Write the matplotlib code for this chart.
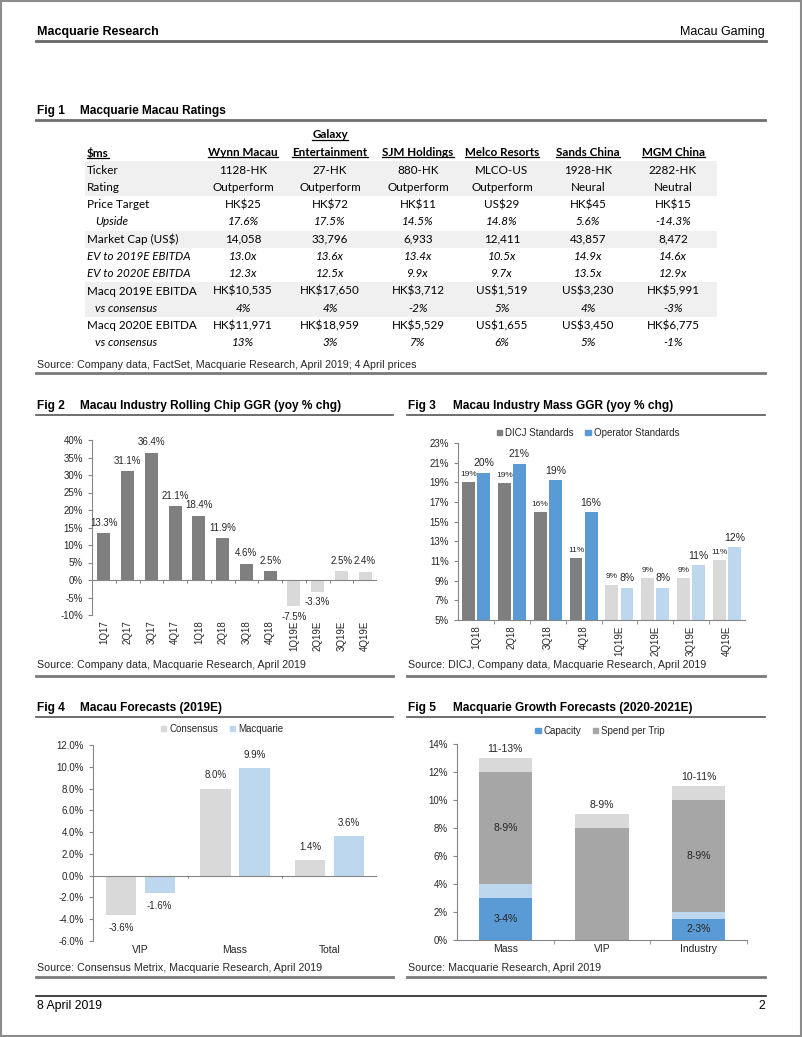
import numpy as np
import matplotlib
matplotlib.use('Agg')
import matplotlib.pyplot as plt
from matplotlib.lines import Line2D
from matplotlib.patches import Rectangle, Patch

plt.rcParams['font.family'] = ['Liberation Sans', 'DejaVu Sans']
NARROW = ['Liberation Sans Narrow', 'Liberation Sans', 'DejaVu Sans']
TABLE_FONT = ['Lato', 'DejaVu Sans']
TABLE_SIZE = 8.4

W, H = 802, 1037

# ---- data ----
companies = ['Wynn Macau', 'Galaxy\nEntertainment', 'SJM Holdings',
             'Melco Resorts', 'Sands China', 'MGM China']
row_labels = ['Ticker', 'Rating', 'Price Target', 'Upside', 'Market Cap (US$)',
              'EV to 2019E EBITDA', 'EV to 2020E EBITDA', 'Macq 2019E EBITDA',
              'vs consensus', 'Macq 2020E EBITDA', 'vs consensus']
tickers = ['1128-HK', '27-HK', '880-HK', 'MLCO-US', '1928-HK', '2282-HK']
ratings = ['Outperform', 'Outperform', 'Outperform', 'Outperform', 'Neural', 'Neutral']
price_targets = ['HK$25', 'HK$72', 'HK$11', 'US$29', 'HK$45', 'HK$15']
upside = ['17.6%', '17.5%', '14.5%', '14.8%', '5.6%', '-14.3%']
market_cap = ['14,058', '33,796', '6,933', '12,411', '43,857', '8,472']
ev_2019 = ['13.0x', '13.6x', '13.4x', '10.5x', '14.9x', '14.6x']
ev_2020 = ['12.3x', '12.5x', '9.9x', '9.7x', '13.5x', '12.9x']
ebitda_2019 = ['HK$10,535', 'HK$17,650', 'HK$3,712', 'US$1,519', 'US$3,230', 'HK$5,991']
cons_2019 = ['4%', '4%', '-2%', '5%', '4%', '-3%']
ebitda_2020 = ['HK$11,971', 'HK$18,959', 'HK$5,529', 'US$1,655', 'US$3,450', 'HK$6,775']
cons_2020 = ['13%', '3%', '7%', '6%', '5%', '-1%']
table_rows = [tickers, ratings, price_targets, upside, market_cap, ev_2019, ev_2020,
              ebitda_2019, cons_2019, ebitda_2020, cons_2020]
italic_rows = {3, 5, 6, 8, 10}
indent_rows = {3, 8, 10}
shaded_rows = {0, 1, 4, 7, 8}

chip_quarters = ['1Q17', '2Q17', '3Q17', '4Q17', '1Q18', '2Q18', '3Q18', '4Q18',
                 '1Q19E', '2Q19E', '3Q19E', '4Q19E']
chip_growth = [13.3, 31.1, 36.4, 21.1, 18.4, 11.9, 4.6, 2.5, -7.5, -3.3, 2.5, 2.4]

mass_quarters = ['1Q18', '2Q18', '3Q18', '4Q18', '1Q19E', '2Q19E', '3Q19E', '4Q19E']
mass_dicj = [19.0, 18.9, 16.0, 11.3, 8.6, 9.3, 9.3, 11.1]
mass_operator = [20.0, 20.9, 19.2, 16.0, 8.3, 8.3, 10.6, 12.4]

fc_segments = ['VIP', 'Mass', 'Total']
fc_consensus = [-3.6, 8.0, 1.4]
fc_macquarie = [-1.6, 9.9, 3.6]

gr_segments = ['Mass', 'VIP', 'Industry']
cap_low = [3.0, 0.0, 1.5]
cap_high = [4.0, 0.0, 2.0]
spend_low = [8.0, 8.0, 8.0]
spend_high = [9.0, 9.0, 9.0]
cap_labels = ['3-4%', '', '2-3%']
spend_labels = ['8-9%', '', '8-9%']
total_labels = ['11-13%', '8-9%', '10-11%']

DARK = '#7f7f7f'
LIGHT = '#d9d9d9'
BLUE = '#5b9bd5'
LBLUE = '#bdd7ee'
MID = '#a6a6a6'
AX = '#868686'
TXT = '#262626'

fig = plt.figure(figsize=(W / 100, H / 100), dpi=100)


def fx(x):
    return x / W


def fy(y):
    return 1 - y / H


def ax_at(l, t, r, b):
    return fig.add_axes([fx(l), fy(b), (r - l) / W, (b - t) / H])


def hline(x0, x1, y, color='#6e6e6e', lw=1.5):
    fig.add_artist(Line2D([fx(x0), fx(x1)], [fy(y), fy(y)], color=color, lw=lw))


def text(x, y, s, **kw):
    kw.setdefault('va', 'center')
    return fig.text(fx(x), fy(y), s, parse_math=False, **kw)


# page border
fig.add_artist(Rectangle((0.001, 0.001), 0.998, 0.998, fill=False,
                         ec='#8c8c8c', lw=1.5, transform=fig.transFigure))

# header / footer
text(37, 32, 'Macquarie Research', family=NARROW, weight='bold', fontsize=9)
text(765, 32, 'Macau Gaming', family=NARROW, fontsize=9, ha='right')
hline(36, 766, 41, color='#666666', lw=2)
hline(36, 766, 996, color='#222222', lw=1.2)
text(37, 1006, '8 April 2019', family=NARROW, fontsize=8.8)
text(765, 1006, '2', family=NARROW, fontsize=8.8, ha='right')


def fig_title(x, y, num, title, x2):
    text(x, y, 'Fig %d' % num, family=NARROW, weight='bold', fontsize=8.6)
    text(x2, y, title, family=NARROW, weight='bold', fontsize=8.6)


def source(x, y, s):
    text(x, y, s, fontsize=7.7, color=TXT)


# ---- Fig 1 table ----
fig_title(37, 111, 1, 'Macquarie Macau Ratings', 80)
hline(36, 765, 120, color='#6e6e6e', lw=2)

col_x = [243, 330, 418, 502, 588, 673]
row_y = [170 + 17.3 * i for i in range(len(row_labels))]
for i in shaded_rows:
    fig.add_artist(Rectangle((fx(85), fy(row_y[i] + 8.65)), (717 - 85) / W, 17.3 / H,
                             color='#f0f0f0', lw=0, transform=fig.transFigure, zorder=0))

headers = [text(87, 153, '$ms', family=TABLE_FONT, fontsize=TABLE_SIZE, weight='bold')]
for cx, name in zip(col_x, companies):
    lines = name.split('\n')
    for k, ln in enumerate(reversed(lines)):
        headers.append(text(cx, 153 - 18 * k, ln, family=TABLE_FONT, fontsize=TABLE_SIZE,
                            weight='bold', ha='center'))

for i, (lab, vals) in enumerate(zip(row_labels, table_rows)):
    style = 'italic' if i in italic_rows else 'normal'
    lx = 95 if i in indent_rows else 87
    text(lx, row_y[i], lab, family=TABLE_FONT, fontsize=TABLE_SIZE, style=style)
    for cx, v in zip(col_x, vals):
        text(cx, row_y[i], v, family=TABLE_FONT, fontsize=TABLE_SIZE, style=style, ha='center')

source(37, 365, 'Source: Company data, FactSet, Macquarie Research, April 2019; 4 April prices')
hline(36, 765, 373, color='#7a7a7a', lw=2)

fig.canvas.draw()
renderer = fig.canvas.get_renderer()
for t in headers:
    bb = t.get_window_extent(renderer).transformed(fig.transFigure.inverted())
    fig.add_artist(Line2D([bb.x0, bb.x1], [bb.y0 + 1.0 / H, bb.y0 + 1.0 / H],
                          color='black', lw=0.9))


def style_axes(ax):
    for s in ['top', 'right']:
        ax.spines[s].set_visible(False)
    ax.spines['left'].set_color(AX)
    ax.spines['bottom'].set_color(AX)
    ax.tick_params(axis='y', colors=AX, labelcolor=TXT, labelsize=7, length=3, width=0.8)
    ax.tick_params(axis='x', colors=AX, labelcolor=TXT, labelsize=7, width=0.8)


def legend(ax, handles, labels, cx, cy):
    ax.legend(handles, labels, loc='center', bbox_to_anchor=(fx(cx), fy(cy)),
              bbox_transform=fig.transFigure, ncol=len(labels), frameon=False,
              fontsize=7, handlelength=0.55, handleheight=0.55, handletextpad=0.3,
              columnspacing=1.2, labelcolor=TXT)


# ---- Fig 2 ----
fig_title(37, 406, 2, 'Macau Industry Rolling Chip GGR (yoy % chg)', 80)
hline(36, 393, 415, color='#555555', lw=1.2)
ax2 = ax_at(92, 440, 377, 615)
x2 = np.arange(len(chip_quarters))
c2 = [LIGHT if q.endswith('E') else DARK for q in chip_quarters]
ax2.bar(x2, chip_growth, width=0.55, color=c2)
ax2.set_xlim(-0.5, len(x2) - 0.5)
ax2.set_ylim(-10, 40)
ax2.set_yticks(range(-10, 41, 5))
ax2.yaxis.set_major_formatter(lambda v, p: '%d%%' % v)
style_axes(ax2)
ax2.spines['bottom'].set_visible(False)
ax2.axhline(0, color=AX, lw=0.8)
ax2.vlines(np.arange(len(x2)) + 0.5, -0.8, 0, color=AX, lw=0.8)
ax2.set_xticks(x2, chip_quarters, rotation=90)
ax2.tick_params(axis='x', length=0, pad=4)
for xi, v in zip(x2, chip_growth):
    off = 4 if v >= 0 else -4
    ax2.annotate('%.1f%%' % v, (xi, v), xytext=(0, off), textcoords='offset points',
                 ha='center', va='bottom' if v >= 0 else 'top', fontsize=7, color=TXT)
source(37, 665, 'Source: Company data, Macquarie Research, April 2019')
hline(36, 393, 676, color='#7a7a7a', lw=2)

# ---- Fig 3 ----
fig_title(408, 406, 3, 'Macau Industry Mass GGR (yoy % chg)', 453)
hline(407, 765, 415, color='#555555', lw=1.2)
ax3 = ax_at(458, 443, 745, 620)
x3 = np.arange(len(mass_quarters))
est = [q.endswith('E') for q in mass_quarters]
ax3.bar(x3 - 0.21, mass_dicj, width=0.36, color=[LIGHT if e else DARK for e in est])
ax3.bar(x3 + 0.21, mass_operator, width=0.36, color=[LBLUE if e else BLUE for e in est])
ax3.set_xlim(-0.5, len(x3) - 0.5)
ax3.set_ylim(5, 23)
ax3.set_yticks(range(5, 24, 2))
ax3.yaxis.set_major_formatter(lambda v, p: '%d%%' % v)
style_axes(ax3)
ax3.set_xticks(x3, mass_quarters, rotation=90)
ax3.set_xticks(np.arange(len(x3) - 1) + 0.5, minor=True)
ax3.tick_params(axis='x', which='major', length=0, pad=4)
ax3.tick_params(axis='x', which='minor', length=3, colors=AX)
for xi, v in zip(x3, mass_dicj):
    ax3.annotate('%d%%' % round(v), (xi - 0.21, v), xytext=(0, 3), textcoords='offset points',
                 ha='center', va='bottom', fontsize=6, color=TXT)
for xi, v in zip(x3, mass_operator):
    ax3.annotate('%d%%' % round(v), (xi + 0.21, v), xytext=(0, 3), textcoords='offset points',
                 ha='center', va='bottom', fontsize=7.5, color=TXT)
legend(ax3, [Patch(color=DARK), Patch(color=BLUE)], ['DICJ Standards', 'Operator Standards'],
       588, 433)
source(408, 665, 'Source: DICJ, Company data, Macquarie Research, April 2019')
hline(407, 765, 676, color='#7a7a7a', lw=2)

# ---- Fig 4 ----
fig_title(37, 708, 4, 'Macau Forecasts (2019E)', 80)
hline(36, 393, 717, color='#555555', lw=1.2)
ax4 = ax_at(93, 745, 377, 941)
x4 = np.arange(len(fc_segments))
ax4.bar(x4 - 0.205, fc_consensus, width=0.32, color=LIGHT)
ax4.bar(x4 + 0.205, fc_macquarie, width=0.32, color=LBLUE)
ax4.set_xlim(-0.5, len(x4) - 0.5)
ax4.set_ylim(-6, 12)
ax4.set_yticks(np.arange(-6, 12.1, 2))
ax4.yaxis.set_major_formatter(lambda v, p: '%.1f%%' % v)
style_axes(ax4)
ax4.spines['bottom'].set_visible(False)
ax4.axhline(0, color=AX, lw=0.8)
ax4.vlines(np.arange(len(x4)) + 0.5, -0.25, 0, color=AX, lw=0.8)
ax4.set_xticks(x4, fc_segments)
ax4.tick_params(axis='x', length=0, pad=3, labelsize=7.5)
for off, vals in [(-0.205, fc_consensus), (0.205, fc_macquarie)]:
    for xi, v in zip(x4, vals):
        ax4.annotate('%.1f%%' % v, (xi + off, v), xytext=(0, 6 if v >= 0 else -6),
                     textcoords='offset points', ha='center',
                     va='bottom' if v >= 0 else 'top', fontsize=7, color=TXT)
legend(ax4, [Patch(color=LIGHT), Patch(color=LBLUE)], ['Consensus', 'Macquarie'], 222, 729)
source(37, 968, 'Source: Consensus Metrix, Macquarie Research, April 2019')
hline(36, 393, 977, color='#7a7a7a', lw=2)

# ---- Fig 5 ----
fig_title(408, 708, 5, 'Macquarie Growth Forecasts (2020-2021E)', 453)
hline(407, 765, 717, color='#555555', lw=1.2)
ax5 = ax_at(457, 744, 747, 940)
x5 = np.arange(len(gr_segments))
cap_lo = np.array(cap_low)
cap_hi = np.array(cap_high)
sp_lo = np.array(spend_low)
sp_hi = np.array(spend_high)
ax5.bar(x5, cap_lo, width=0.55, color=BLUE)
ax5.bar(x5, cap_hi - cap_lo, bottom=cap_lo, width=0.55, color=LBLUE)
ax5.bar(x5, sp_lo, bottom=cap_hi, width=0.55, color=MID)
ax5.bar(x5, sp_hi - sp_lo, bottom=cap_hi + sp_lo, width=0.55, color=LIGHT)
ax5.set_xlim(-0.5, len(x5) - 0.5)
ax5.set_ylim(0, 14)
ax5.set_yticks(range(0, 15, 2))
ax5.yaxis.set_major_formatter(lambda v, p: '%d%%' % v)
style_axes(ax5)
ax5.set_xticks(x5, gr_segments)
ax5.set_xticks(np.arange(len(x5)) + 0.5, minor=True)
ax5.tick_params(axis='x', which='major', length=0, pad=3, labelsize=7.5)
ax5.tick_params(axis='x', which='minor', length=3, colors=AX)
for xi in x5:
    if cap_labels[xi]:
        ax5.text(xi, cap_lo[xi] / 2, cap_labels[xi], ha='center', va='center', fontsize=7.5, color=TXT)
    if spend_labels[xi]:
        ax5.text(xi, cap_hi[xi] + sp_lo[xi] / 2, spend_labels[xi], ha='center', va='center',
                 fontsize=7.5, color=TXT)
    ax5.annotate(total_labels[xi], (xi, cap_hi[xi] + sp_hi[xi]), xytext=(0, 3),
                 textcoords='offset points', ha='center', va='bottom', fontsize=7.5, color=TXT)
legend(ax5, [Patch(color=BLUE), Patch(color=MID)], ['Capacity', 'Spend per Trip'], 600, 731)
source(408, 968, 'Source: Macquarie Research, April 2019')
hline(407, 765, 977, color='#7a7a7a', lw=2)

fig.savefig('out.png', dpi=100)
